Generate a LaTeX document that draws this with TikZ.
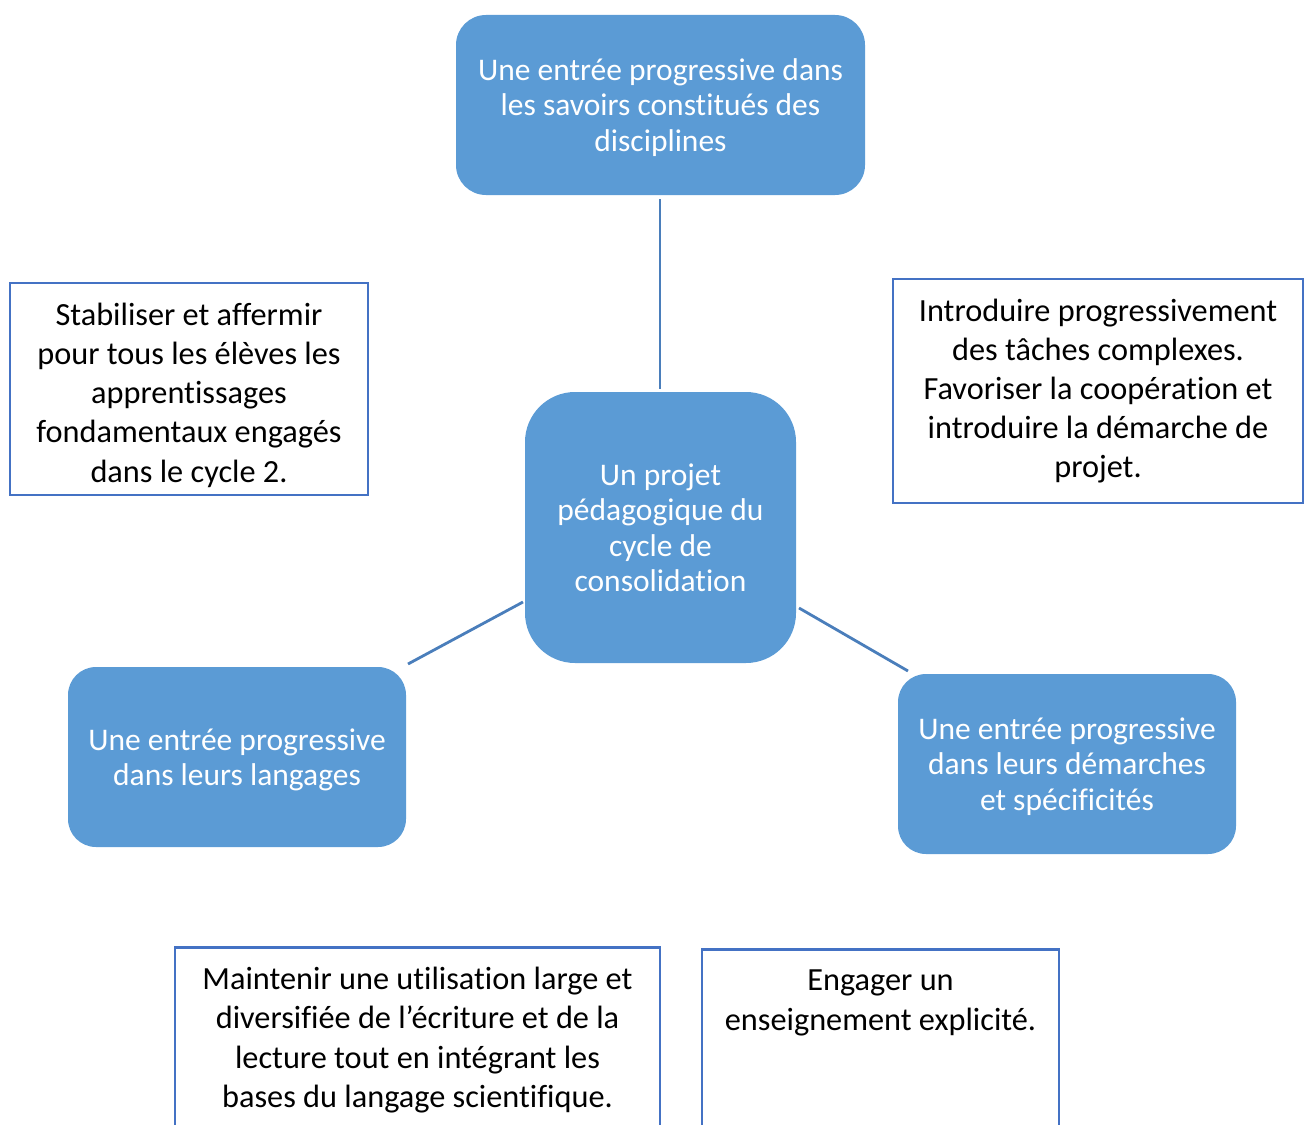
\documentclass[tikz,border=0pt]{standalone}
\usepackage{fontspec}
\setmainfont{Carlito}[Ligatures=NoCommon]
\definecolor{accentfill}{HTML}{5B9BD5}
\definecolor{linkblue}{HTML}{4A7EBB}
\definecolor{frameblue}{HTML}{4472C4}
\tikzset{
  bluebox/.style={fill=accentfill, draw=none, text=white, align=center,
    inner sep=0pt, text depth=0pt, font=\fontsize{31.5}{35.5}\selectfont},
  whitebox/.style={draw=frameblue, line width=2.5pt, fill=white, inner sep=0pt},
  boxtext/.style={align=center, inner sep=0pt, font=\fontsize{32.3}{39.2}\selectfont},
  link/.style={draw=linkblue, line width=2.8pt}
}
\begin{document}
\begin{tikzpicture}[x=1pt,y=-1pt]
\useasboundingbox (0,0) rectangle (1311,1124);

% central node and the three themes around it
\node[bluebox, rounded corners=50pt, minimum width=271pt, minimum height=271pt]
  (centre) at (660.5,527.5) {Un projet\\pédagogique du\\cycle de\\consolidation};
\node[bluebox, rounded corners=30pt, minimum width=409pt, minimum height=180pt]
  (savoirs) at (660.5,105) {Une entrée progressive dans\\les savoirs constitués des\\disciplines};
\node[bluebox, rounded corners=28pt, minimum width=338pt, minimum height=180pt]
  (langages) at (237,757) {Une entrée progressive\\dans leurs langages};
\node[bluebox, rounded corners=28pt, minimum width=338pt, minimum height=180pt]
  (demarches) at (1067,764) {Une entrée progressive\\dans leurs démarches\\et spécificités};

% connectors
\coordinate (ctop) at (660,389);
\coordinate (cleft) at (523,602);
\coordinate (cright) at (799,608);
\coordinate (stop) at (660,199);
\coordinate (lend) at (408,664);
\coordinate (dend) at (908,671);
\draw[link] (stop) -- (ctop);
\draw[link] (cleft) -- (lend);
\draw[link] (cright) -- (dend);

% framed objectives
\node[whitebox, minimum width=358pt, minimum height=212pt] (stab) at (189,389) {};
\begin{scope}
  \clip (11,284) rectangle (367,494);
  \node[boxtext] (stabtext) at (189,395) {Stabiliser et affermir\\pour tous les élèves les\\apprentissages\\fondamentaux engagés\\dans le cycle 2.};
\end{scope}

\node[whitebox, minimum width=410pt, minimum height=224pt] (intro) at (1098,391) {};
\node[boxtext] (introtext) at (1098,391) {Introduire progressivement\\des tâches complexes.\\Favoriser la coopération et\\introduire la démarche de\\projet.};

\node[whitebox, minimum width=485pt, minimum height=240pt, anchor=north] (ecrit) at (417.5,946) {};
\node[boxtext, anchor=north] (ecrittext) at (417.5,967) {Maintenir une utilisation large et\\diversifiée de l’écriture et de la\\lecture tout en intégrant les\\bases du langage scientifique.};

\node[whitebox, minimum width=357pt, minimum height=240pt, anchor=north] (explicite) at (880.5,948) {};
\node[boxtext, anchor=north] (explicitetext) at (880.5,970) {Engager un\\enseignement explicité.};
\end{tikzpicture}
\end{document}
